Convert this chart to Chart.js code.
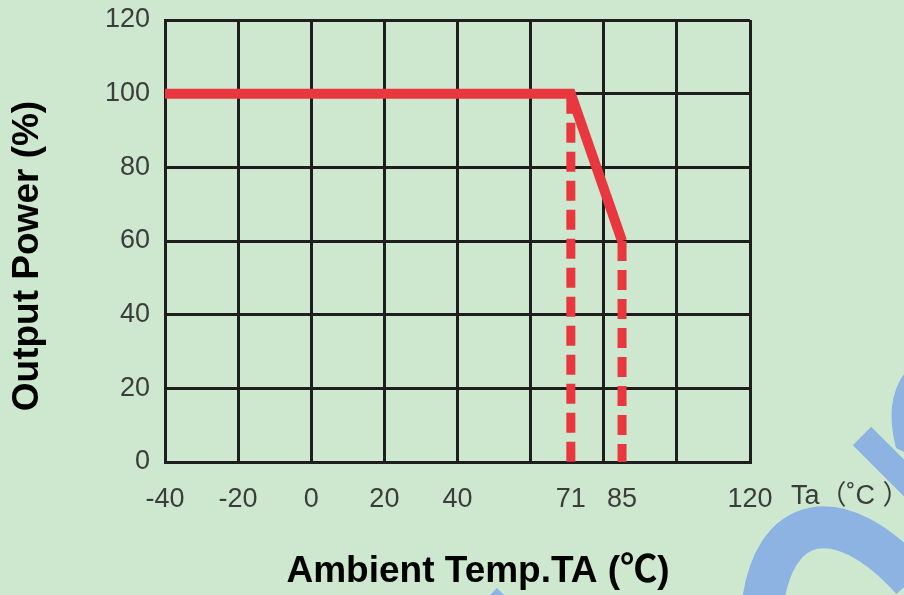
<!DOCTYPE html>
<html lang="en">
<head>
    <meta charset="UTF-8">
    <title>Output Power vs Ambient Temperature</title>
    <script src="https://cdn.jsdelivr.net/npm/chart.js"></script>
    <style>
        html, body { margin: 0; padding: 0; background: #cde8cf; }
        #wrap { width: 904px; height: 595px; }
    </style>
</head>
<body>
<div id="wrap"><canvas id="derating"></canvas></div>
<script>
    // derating curve
    const temps = [-40, 71, 85];
    const power = [100, 100, 60];

    // axis ticks
    const xGridVals = [-40, -20, 0, 20, 40, 60, 80, 100, 120];
    const xLabelVals = [-40, -20, 0, 20, 40, 71, 85, 120];
    const yTicks = [0, 20, 40, 60, 80, 100, 120];

    const RED = '#e8373f';
    const xTickVals = [...new Set(xGridVals.concat(xLabelVals))].sort((a, b) => a - b);

    // dashed drop lines from each knee down to 0
    const drop1 = [{x: temps[1], y: power[1]}, {x: temps[1], y: 0}];
    const drop2 = [{x: temps[2], y: power[2]}, {x: temps[2], y: 0}];

    const bgPlugin = {
        id: 'bg',
        beforeDraw(chart) {
            const c = chart.ctx;
            c.save();
            c.fillStyle = '#cde8cf';
            c.fillRect(0, 0, chart.width, chart.height);
            // watermark strokes
            c.strokeStyle = '#8db3e2';
            c.fillStyle = '#8db3e2';
            c.lineWidth = 42;
            c.beginPath();
            c.moveTo(762, 610);
            c.bezierCurveTo(772, 512, 840, 500, 912, 580);
            c.stroke();
            c.lineWidth = 26;
            c.lineCap = 'butt';
            c.beginPath();
            c.moveTo(862, 436);
            c.lineTo(925, 499);
            c.stroke();
            c.beginPath();
            c.moveTo(904, 374);
            c.quadraticCurveTo(884, 402, 896, 448);
            c.lineTo(904, 452);
            c.closePath();
            c.fill();
            c.beginPath();
            c.moveTo(490, 595);
            c.lineTo(497, 588);
            c.lineTo(504, 595);
            c.closePath();
            c.fill();
            c.restore();
        }
    };

    const textPlugin = {
        id: 'texts',
        afterDraw(chart) {
            const c = chart.ctx;
            c.save();
            c.fillStyle = '#000';
            c.textBaseline = 'middle';
            c.textAlign = 'center';
            c.font = 'bold 37px "Liberation Sans", "Noto Sans CJK SC", sans-serif';
            c.fillText('Ambient Temp.TA (℃)', 478, 572);
            c.translate(28, 256);
            c.rotate(-Math.PI / 2);
            c.fillText('Output Power (%)', 0, 0);
            c.restore();

            c.save();
            c.fillStyle = '#3c3c3c';
            c.textBaseline = 'middle';
            c.textAlign = 'left';
            c.font = '27px "Liberation Sans", "Noto Sans CJK SC", sans-serif';
            c.fillText('Ta（˚C ）', 791, 497);
            c.restore();
        }
    };

    new Chart('derating', {
        type: 'line',
        data: {
            datasets: [{
                data: temps.map((t, i) => ({x: t, y: power[i]})),
                borderColor: RED,
                borderWidth: 10,
                borderJoinStyle: 'miter',
                pointRadius: 0
            }, {
                data: drop1,
                borderColor: RED,
                borderWidth: 9,
                borderDash: [20, 9],
                pointRadius: 0
            }, {
                data: drop2,
                borderColor: RED,
                borderWidth: 9,
                borderDash: [20, 9],
                pointRadius: 0
            }]
        },
        options: {
            responsive: true,
            maintainAspectRatio: false,
            animation: false,
            layout: { padding: { top: 20, right: 154, left: 0, bottom: 0 } },
            plugins: { legend: { display: false }, tooltip: { enabled: false } },
            scales: {
                x: {
                    type: 'linear',
                    min: -40,
                    max: 120,
                    afterBuildTicks: s => { s.ticks = xTickVals.map(v => ({value: v})); },
                    afterFit: s => { s.height = 133; s.paddingLeft = 0; s.paddingRight = 0; },
                    grid: {
                        color: ctx => (ctx.tick && xGridVals.includes(ctx.tick.value)) ? '#1e1e1e' : 'rgba(0,0,0,0)',
                        lineWidth: 3,
                        drawTicks: false
                    },
                    border: { color: '#1e1e1e', width: 3 },
                    ticks: {
                        padding: 21,
                        color: '#3c3c3c',
                        font: { family: '"Liberation Sans", Arial, sans-serif', size: 27 },
                        maxRotation: 0,
                        autoSkip: false,
                        callback: v => xLabelVals.includes(v) ? String(v) : ''
                    }
                },
                y: {
                    min: 0,
                    max: 120,
                    afterBuildTicks: s => { s.ticks = yTicks.map(v => ({value: v})); },
                    afterFit: s => { s.width = 165; s.paddingTop = 0; s.paddingBottom = 0; },
                    grid: { color: '#1e1e1e', lineWidth: 3, drawTicks: false },
                    border: { color: '#1e1e1e', width: 3 },
                    ticks: {
                        padding: 15,
                        color: '#3c3c3c',
                        font: { family: '"Liberation Sans", Arial, sans-serif', size: 27 }
                    }
                }
            }
        },
        plugins: [bgPlugin, textPlugin]
    });
</script>
</body>
</html>
